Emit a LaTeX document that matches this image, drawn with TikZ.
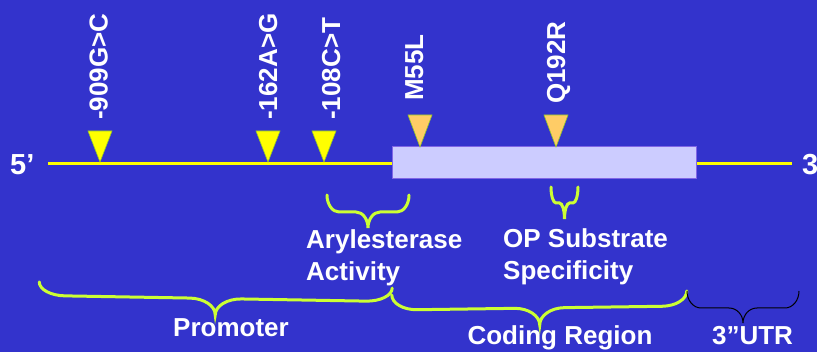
\documentclass[tikz,border=0pt]{standalone}
\usepackage{fontspec}
\setmainfont{Liberation Sans}
\definecolor{bgblue}{RGB}{51,51,204}
\definecolor{dnayellow}{RGB}{255,255,0}
\definecolor{braceline}{RGB}{204,255,51}
\definecolor{codonorange}{RGB}{255,204,102}
\definecolor{exonfill}{RGB}{204,204,255}
\definecolor{exonedge}{RGB}{128,102,230}
\definecolor{tipedge}{RGB}{150,200,40}

% downward curly brace: style, x1, x2, y at ends, y of the bar, y of the tip, radius
\newcommand\CurlyBrace[7]{%
  \pgfmathsetmacro\bxc{(#2+#3)/2}%
  \draw[#1] (#2,#4)
    .. controls (#2,{#4+0.552*(#5-#4)}) and ({#2+0.448*#7},#5) .. ({#2+#7},#5)
    -- ({\bxc-#7},#5)
    .. controls ({\bxc-0.448*#7},#5) and (\bxc,{#5+0.448*(#6-#5)}) .. (\bxc,#6)
    .. controls (\bxc,{#5+0.448*(#6-#5)}) and ({\bxc+0.448*#7},#5) .. ({\bxc+#7},#5)
    -- ({#3-#7},#5)
    .. controls ({#3-0.448*#7},#5) and (#3,{#4+0.552*(#5-#4)}) .. (#3,#4);}

% variant marker: x of the tip, y of the top edge, y of the tip, style
\newcommand\SnpMark[4]{%
  \filldraw[#4] ({#1-12},#2) -- ({#1+12},#2) -- (#1,#3) -- cycle;}

\tikzset{
  dnaline/.style={dnayellow, line width=3pt},
  exonbox/.style={draw=exonedge, fill=exonfill, line width=1pt,
    minimum width=304pt, minimum height=32pt, inner sep=0pt},
  promomark/.style={fill=dnayellow, draw=tipedge, line width=0.6pt},
  aamark/.style={fill=codonorange, draw=tipedge, line width=0.6pt},
  vlabel/.style={text=white, font=\fontsize{26}{30}\selectfont\bfseries,
    rotate=90, anchor=base west, inner sep=0pt},
  hlabel/.style={text=white, font=\fontsize{26}{32}\selectfont\bfseries,
    inner sep=0pt, align=left},
  endlabel/.style={text=white, font=\fontsize{29}{32}\selectfont\bfseries,
    inner sep=0pt, anchor=base west},
  limebrace/.style={braceline, line width=3pt, line cap=round},
  thinbrace/.style={black, line width=1pt},
}

\begin{document}
\begin{tikzpicture}[x=1pt, y=-1pt]
  \fill[bgblue] (0,0) rectangle (817,352);
  \useasboundingbox (0,0) rectangle (817,352);

  % gene: 5' flank, coding exon, 3' flank
  \node[exonbox] (exon) at (544,163) {};
  \coordinate (fiveend) at (48,163.5);
  \coordinate (threeend) at (792,163.5);
  \draw[dnaline] (fiveend) -- (exon.west |- fiveend);
  \draw[dnaline] (exon.east |- threeend) -- (threeend);
  \node[endlabel] (five) at (10,175) {5’};
  \node[endlabel] (three) at (802,175) {3’};

  % promoter variants
  \SnpMark{100}{131}{162}{promomark}
  \SnpMark{268}{131}{162}{promomark}
  \SnpMark{324}{131}{162}{promomark}
  \node[vlabel] (v909) at (107.5,120) {-909G>C};
  \node[vlabel] (v162) at (277,120) {-162A>G};
  \node[vlabel] (v108) at (340,120) {-108C>T};

  % coding variants
  \SnpMark{420}{115}{147}{aamark}
  \SnpMark{556}{115}{147}{aamark}
  \node[vlabel] (m55) at (423,101) {M55L};
  \node[vlabel] (q192) at (565,104) {Q192R};

  % functional regions
  \CurlyBrace{limebrace}{327}{409}{195}{212}{228}{12}
  \node[hlabel, anchor=base west] (aryl) at (306,281) {Arylesterase\\Activity};
  \CurlyBrace{limebrace}{551}{578}{187}{203}{219}{5}
  \node[hlabel, anchor=base west] (opsub) at (503,280) {OP Substrate\\Specificity};

  % gene regions
  \CurlyBrace{limebrace, rotate around={-1:(215.5,298.5)}}{39}{392}{285}{298.5}{315}{26}
  \node[hlabel, anchor=base] (promoter) at (231,337) {Promoter};
  \CurlyBrace{limebrace, rotate around={0.8:(539.5,308)}}{392}{687}{293}{308}{325}{25}
  \node[hlabel, anchor=base] (coding) at (560,345) {Coding Region};
  \CurlyBrace{thinbrace}{687}{799}{291}{308}{323}{14}
  \node[hlabel, anchor=base] (utr) at (752.5,345) {3”UTR};
\end{tikzpicture}
\end{document}
